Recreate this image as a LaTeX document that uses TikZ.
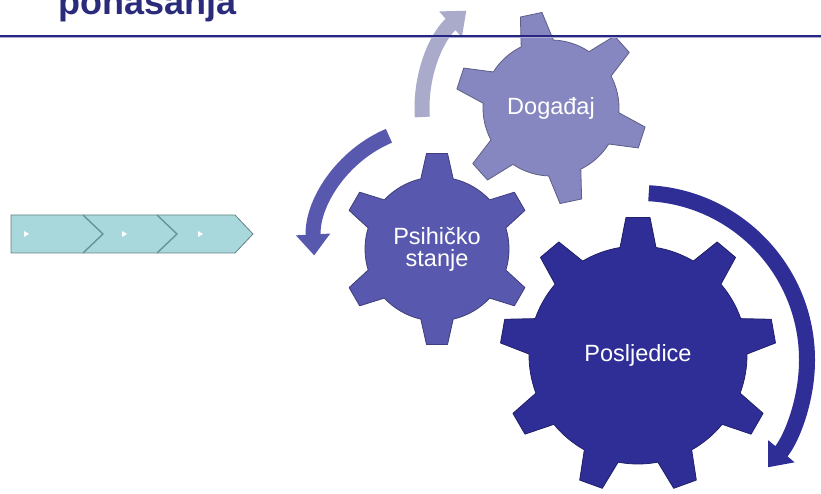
\documentclass[tikz,border=0pt]{standalone}
\usepackage{fontspec}
\setmainfont{Liberation Sans}
\usetikzlibrary{arrows.meta}
\definecolor{titleblue}{RGB}{43,43,123}
\definecolor{ruleblue}{RGB}{38,38,128}
\definecolor{rulelight}{RGB}{172,172,215}
\definecolor{evtcol}{RGB}{134,134,192}
\definecolor{psycol}{RGB}{88,88,174}
\definecolor{conscol}{RGB}{46,46,150}
\definecolor{grayarr}{RGB}{170,170,202}
\definecolor{chevfill}{RGB}{168,216,220}
\definecolor{chevline}{RGB}{104,148,152}
% center, teeth, offset, body radius, tip radius, base half-angle, tip half-angle, colour
\newcommand{\drawgear}[8]{%
  \begin{scope}[shift={#1}]
    \draw[gearedge, fill=#8, draw=#8!70!black] (#3-#6:#4)
      \foreach \k [evaluate=\k as \a using #3+(\k-1)*360/#2] in {1,...,#2} {
        -- (\a-#6:#4) -- (\a-#7:#5) -- (\a+#7:#5) -- (\a+#6:#4)
        arc[start angle=\a+#6, end angle=\a+360/#2-#6, radius=#4]
      } -- cycle;
  \end{scope}}
\begin{document}
\begin{tikzpicture}[x=1pt, y=1pt,
    gearedge/.style={line width=0.8pt, line join=round},
    gearlabel/.style={text=white, align=center, font=\fontsize{23.5}{22}\selectfont},
    turnarrow/.style={line width=15pt, -{Triangle[length=21pt, width=33pt]}}]
    \useasboundingbox (0,0) rectangle (821,493);
    \node[anchor=base west, text=titleblue, inner sep=0pt,
        font=\fontsize{36}{40}\bfseries] (title) at (58,478) {ponašanja};
    \coordinate (ruleL) at (0,456.5);
    \coordinate (ruleR) at (821,456.5);
    \draw[chevfill!60!black, fill=chevfill, line width=0.8pt] (11,278) -- (235,278)
        -- (253,259) -- (235,240) -- (11,240) -- cycle;
    \draw[chevline, line width=1.4pt] (83,278) -- (103,259) -- (83,240);
    \draw[chevline, line width=1.4pt] (157,278) -- (177,259) -- (157,240);
    \foreach \x in {24,122,198} {
        \fill[white] (\x,262) -- (\x+5,259) -- (\x,256) -- cycle;
    }
    \drawgear{(551,385)}{6}{102}{68}{96}{14}{6.6}{evtcol}
    \drawgear{(437,244)}{6}{90}{72}{96}{13}{6.3}{psycol}
    \drawgear{(638,138)}{9}{90}{109}{138}{9.5}{5}{conscol}
    \node[gearlabel] (evt) at (551,385) {Događaj};
    \node[gearlabel] (psy) at (437,244) {Psihičko\\stanje};
    \node[gearlabel] (cons) at (638,138) {Posljedice};
    \coordinate (spin) at (640,133);
    \draw[turnarrow, grayarr] ([shift={(184:129)}]evt.center)
        arc[start angle=184, end angle=131, radius=129];
    \draw[turnarrow, psycol] ([shift={(113:123)}]psy.center)
        arc[start angle=113, end angle=183, radius=123];
    \draw[turnarrow, conscol, line width=16pt] ([shift={(87:167)}]spin)
        arc[start angle=87, end angle=-40, radius=167];
    \draw[ruleblue, line width=2pt] (ruleL) -- (ruleR);
    \draw[rulelight, line width=1pt] ([yshift=-1.5pt]ruleL) -- ([yshift=-1.5pt]ruleR);
\end{tikzpicture}
\end{document}
